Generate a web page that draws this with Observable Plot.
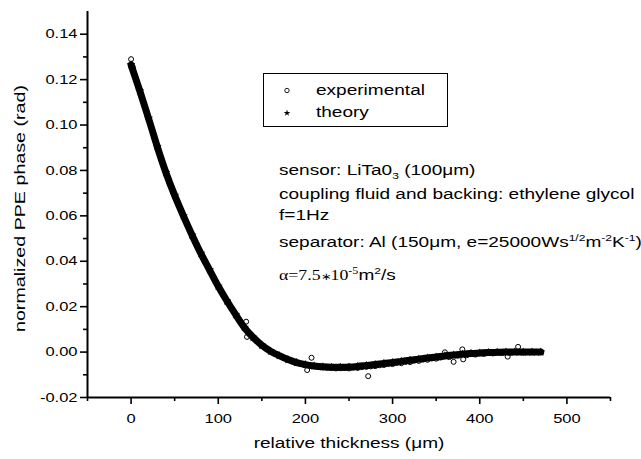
<!DOCTYPE html>
<html><head><meta charset="utf-8">
<script src="https://cdn.jsdelivr.net/npm/d3@7"></script>
<script src="https://cdn.jsdelivr.net/npm/@observablehq/plot@0.6"></script>
<style>
body{margin:0;background:#fff;}
#chart{width:641px;height:459px;}
</style></head><body><div id="chart"></div>
<script>
// ---- data ----
const theoryX = [0,10,20,30,40,50,60,70,80,90,100,110,120,130,140,150,160,170,180,190,200,210,220,230,240,250,260,270,280,290,300,310,320,330,340,350,360,370,380,390,400,410,420,430,440,450,460,470];
const theoryY = [0.1265,0.1150,0.1030,0.0905,0.0790,0.0690,0.0600,0.0515,0.0435,0.0362,0.0290,0.0225,0.0165,0.0108,0.0065,0.0030,0.0004,-0.0016,-0.0033,-0.0046,-0.0055,-0.0061,-0.0065,-0.0067,-0.0067,-0.0066,-0.0063,-0.0059,-0.0055,-0.0050,-0.0046,-0.0041,-0.0036,-0.0031,-0.0026,-0.0022,-0.0017,-0.0013,-0.0009,-0.0006,-0.0004,-0.0002,-0.0001,0.0000,0.0000,0.0000,0.0000,0.0000];
const expX = [0,2,5,10,15,20,25,30,35,40,45,50,55,60,65,70,75,80,85,90,95,100,105,110,115,120,125,130,132,133,135,140,145,150,155,160,165,170,175,180,185,190,195,200,202,207,210,215,220,225,230,235,240,245,250,255,260,265,270,272,275,280,285,290,295,300,305,310,315,320,325,330,335,340,345,350,355,360,365,370,375,380,381,385,390,395,400,405,410,415,420,425,430,432,435,440,444,450,455,460,465,470];
const expY = [0.1290,0.1255,0.1210,0.1155,0.1088,0.1025,0.0968,0.0900,0.0848,0.0795,0.0738,0.0688,0.0645,0.0598,0.0558,0.0512,0.0476,0.0432,0.0398,0.0360,0.0328,0.0288,0.0258,0.0222,0.0195,0.0163,0.0138,0.0105,0.0134,0.0067,0.0082,0.0062,0.0047,0.0028,0.0015,0.0002,-0.0007,-0.0018,-0.0026,-0.0035,-0.0041,-0.0048,-0.0052,-0.0057,-0.0079,-0.0025,-0.0063,-0.0064,-0.0068,-0.0069,-0.0070,-0.0072,-0.0071,-0.0070,-0.0072,-0.0068,-0.0070,-0.0066,-0.0065,-0.0106,-0.0063,-0.0062,-0.0058,-0.0057,-0.0052,-0.0053,-0.0047,-0.0049,-0.0043,-0.0044,-0.0037,-0.0039,-0.0033,-0.0034,-0.0028,-0.0029,-0.0024,-0.0001,-0.0022,-0.0043,-0.0016,0.0012,-0.0032,-0.0014,-0.0009,-0.0011,-0.0006,-0.0008,-0.0003,-0.0006,-0.0002,-0.0004,-0.0001,-0.0020,-0.0003,0.0000,0.0023,-0.0002,0.0000,-0.0001,0.0001,0.0000];
const xMajor = [0,100,200,300,400,500];
const xMinor = [-50,50,150,250,350,450,550];
const yMajor = [-0.02,0,0.02,0.04,0.06,0.08,0.10,0.12,0.14];
const yMinor = [-0.01,0.01,0.03,0.05,0.07,0.09,0.11,0.13];
const xLabel = "relative thickness (μm)";
const yLabel = "normalized PPE phase (rad)";
const legendLabels = ["experimental","theory"];

const S = 1.27; // horizontal glyph stretch seen in the reference
const FONT = "Liberation Sans, Arial, Helvetica, sans-serif";
const SERIF = "Liberation Serif, Times New Roman, serif";

const theory = theoryX.map((x,i)=>({x, y: theoryY[i]}));
const exp = expX.map((x,i)=>({x, y: expY[i]}));

const plot = Plot.plot({
  width:641, height:459,
  marginLeft:87, marginRight:31, marginTop:11, marginBottom:62,
  style:{fontFamily:FONT, background:"white", color:"black", overflow:"visible"},
  x:{domain:[-50,550]},
  y:{domain:[-0.02,0.15]},
  marks:[
    Plot.axisX(xMajor, {tickSize:7, tickPadding:9, fontSize:13, label:null, tickFormat:d=>String(d), strokeWidth:1.6}),
    Plot.axisX(xMinor, {tickSize:4, tickFormat:()=>"", label:null, strokeWidth:1.6}),
    Plot.axisY(yMajor, {tickSize:7, tickPadding:3, fontSize:13, label:null, tickFormat:d=>d.toFixed(2), strokeWidth:1.6}),
    Plot.axisY(yMinor, {tickSize:4, tickFormat:()=>"", label:null, strokeWidth:1.6}),
    Plot.ruleX([-50], {y1:-0.02, y2:0.15, strokeWidth:2}),
    Plot.ruleY([-0.02], {x1:-50, x2:550, strokeWidth:2}),
    Plot.line(theory, {x:"x", y:"y", stroke:"black", strokeWidth:7, curve:"catmull-rom"}),
    Plot.dot(theory, {x:"x", y:"y", symbol:"star", r:2.5, fill:"black", stroke:"black", strokeWidth:0.5}),
    Plot.dot(exp, {x:"x", y:"y", symbol:"circle", r:2.5, stroke:"black", fill:"none", strokeWidth:1}),
    Plot.text([xLabel], {text:d=>d, frameAnchor:"bottom", dy:50, fontSize:15}),
    Plot.text([yLabel], {text:d=>d, frameAnchor:"left", textAnchor:"middle", dx:-67, dy:4, rotate:-90, fontSize:15.5})
  ]
});
document.getElementById("chart").appendChild(plot);

const svg = d3.select(plot);
// stretch all Plot texts horizontally (in their own frame) about their anchor
const num = v => v != null && /^\s*-?[\d.]+(e-?\d+)?\s*$/.test(v);
svg.selectAll("text").each(function(){
  let tr = this.getAttribute("transform") || "";
  const x = this.getAttribute("x"), y = this.getAttribute("y");
  const nx = num(x) ? +x : 0, ny = num(y) ? +y : 0;
  if (num(x)) this.removeAttribute("x");
  if (num(y)) this.removeAttribute("y");
  if (nx || ny) tr += ` translate(${nx},${ny})`;
  this.setAttribute("transform", (tr + ` scale(${S},1)`).trim());
});

// legend box
const lg = svg.append("g").attr("text-anchor","start");
lg.append("rect").attr("x",263.5).attr("y",73.5).attr("width",184).attr("height",53)
  .attr("fill","white").attr("stroke","black").attr("stroke-width",1);
lg.append("circle").attr("cx",287).attr("cy",90.5).attr("r",2.2).attr("fill","none").attr("stroke","black").attr("stroke-width",0.9);
lg.append("path").attr("d", d3.symbol(d3.symbolStar, 14)()).attr("transform","translate(287,113)").attr("fill","black");
[[legendLabels[0],95],[legendLabels[1],117]].forEach(([s,y])=>{
  lg.append("text").attr("transform",`translate(316,${y}) scale(${S},1)`)
    .attr("font-family",FONT).attr("font-size",15).attr("fill","black").text(s);
});

// annotation lines with super/subscripts
const ann = svg.append("g").attr("text-anchor","start");
function rich(x, y, parts){
  const t = ann.append("text").attr("transform",`translate(${x},${y}) scale(${S},1)`)
    .attr("font-family",FONT).attr("font-size",15).attr("fill","black");
  let prev = 0;
  parts.forEach(p=>{
    const shift = p.sup ? 6 : p.sub ? -4 : p.mid ? 0 : 0;
    const ts = t.append("tspan").text(p.t);
    if (shift !== prev) ts.attr("dy", -(shift - prev));
    if (p.sup || p.sub) ts.attr("font-size",9.5);
    if (p.size) ts.attr("font-size",p.size);
    if (p.serif) ts.attr("font-family",SERIF);
    prev = shift;
  });
}
rich(279,175,[{t:"sensor: LiTa0"},{t:"3",sub:true},{t:" (100μm)"}]);
rich(279,199,[{t:"coupling fluid and backing: ethylene glycol"}]);
rich(279,220,[{t:"f=1Hz"}]);
rich(279,247,[{t:"separator: Al (150μm, e=25000Ws"},{t:"1/2",sup:true},{t:"m"},{t:"-2",sup:true},{t:"K"},{t:"-1",sup:true},{t:")"}]);
rich(279,280,[{t:"α=7.5",serif:true,size:14},{t:"∗",size:10},{t:"10",serif:true,size:14},{t:"-5",sup:true,serif:true},{t:"m"},{t:"2",sup:true},{t:"/s"}]);
</script></body></html>
